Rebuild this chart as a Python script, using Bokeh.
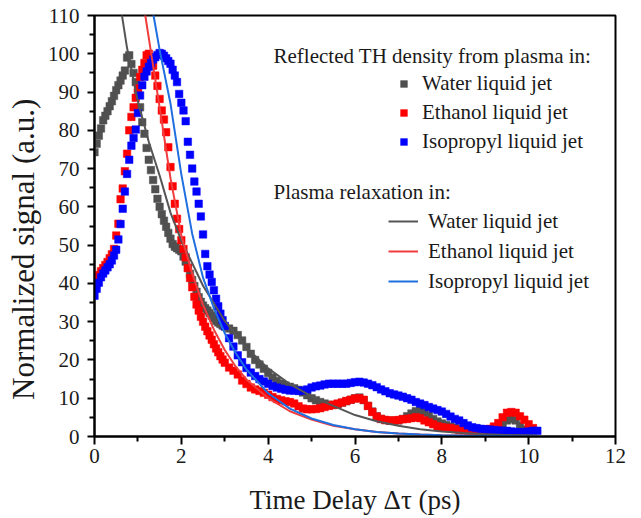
from bokeh.plotting import figure
from bokeh.models import FixedTicker, Legend, LegendItem, Label
from bokeh.embed import file_html
from bokeh.resources import INLINE

# ---------------- data ----------------
delay = [0.00, 0.05, 0.10, 0.15, 0.20, 0.25, 0.30, 0.35, 0.40, 0.45,
         0.50, 0.55, 0.60, 0.65, 0.70, 0.75, 0.80, 0.85, 0.90, 0.95,
         1.00, 1.05, 1.10, 1.15, 1.20, 1.25, 1.30, 1.35, 1.40, 1.45,
         1.50, 1.55, 1.60, 1.65, 1.70, 1.75, 1.80, 1.85, 1.90, 1.95,
         2.00, 2.05, 2.10, 2.15, 2.20, 2.25, 2.30, 2.35, 2.40, 2.45,
         2.50, 2.55, 2.60, 2.65, 2.70, 2.75, 2.80, 2.85, 2.90, 2.95,
         3.00,
         3.1, 3.2, 3.3, 3.4, 3.5, 3.6, 3.7, 3.8, 3.9,
         4.0, 4.1, 4.2, 4.3, 4.4, 4.5, 4.6, 4.7, 4.8, 4.9,
         5.0, 5.1, 5.2, 5.3, 5.4, 5.5, 5.6, 5.7, 5.8, 5.9,
         6.0, 6.1, 6.2, 6.3, 6.4, 6.5, 6.6, 6.7, 6.8, 6.9,
         7.0, 7.1, 7.2, 7.3, 7.4, 7.5, 7.6, 7.7, 7.8, 7.9,
         8.0, 8.1, 8.2, 8.3, 8.4, 8.5, 8.6, 8.7, 8.8, 8.9,
         9.0, 9.1, 9.2, 9.3, 9.4, 9.5, 9.6, 9.7, 9.8, 9.9,
         10.0, 10.1, 10.2]

water = [74.3, 76.5, 78.6, 80.5, 82.6, 83.8, 85.0, 86.3, 87.6, 89.0,
         90.5, 91.8, 93.0, 94.3, 95.6, 99.0, 99.6, 97.3, 95.0, 92.6,
         89.8, 86.0, 82.1, 79.1, 75.4, 72.3, 69.6, 67.0, 64.6, 62.1,
         60.0, 58.1, 56.4, 54.8, 53.2, 51.7, 50.3, 49.6, 49.2, 48.8,
         48.4, 47.0, 45.7, 44.1, 42.5, 40.9, 39.3, 37.8, 36.4, 35.2,
         34.2, 33.5, 32.9, 32.3, 31.6, 30.9, 30.2, 29.8, 29.4, 29.0,
         28.7,
         28.2, 27.6, 26.5, 25.1, 23.4, 21.6, 20.0, 18.8, 17.7,
         16.6, 15.4, 14.5, 13.8, 13.3, 13.0, 12.6, 12.2, 11.5, 10.8,
         10.0, 9.5, 9.0, 8.6, 8.3, 8.2, 8.4, 8.8, 9.2, 9.6,
         10.0, 10.2, 9.5, 8.0, 6.5, 5.3, 4.6, 4.3, 4.1, 4.1,
         4.2, 4.6, 5.3, 6.0, 6.6, 6.8, 6.3, 5.5, 4.6, 3.9,
         3.4, 3.0, 2.6, 2.3, 2.0, 1.8, 1.6, 1.4, 1.2, 1.1,
         1.0, 1.1, 1.5, 2.3, 3.3, 4.2, 4.6, 4.2, 2.8, 1.8,
         1.4]

ethanol = [39.7, 41.0, 42.2, 43.2, 44.0, 44.8, 45.6, 46.6, 47.6, 49.0,
           52.5, 55.6, 62.0, 64.8, 69.3, 73.9, 80.0, 83.5, 86.0, 88.5,
           91.0, 93.9, 95.8, 97.6, 99.6, 100.0, 98.8, 96.9, 94.3, 91.6,
           88.2, 85.2, 82.8, 79.5, 75.6, 70.4, 65.4, 60.8, 56.9, 54.2,
           51.3, 49.0, 46.8, 44.0, 41.4, 39.0, 36.5, 34.5, 32.9, 31.3,
           30.0, 28.7, 27.5, 26.4, 25.3, 24.1, 23.0, 22.0, 21.0, 20.1,
           19.3,
           18.0, 17.2, 16.2, 14.6, 13.7, 12.8, 12.3, 11.9, 11.4,
           10.9, 10.3, 9.8, 9.5, 9.2, 9.0, 8.6, 7.9, 7.3, 7.1,
           7.1, 7.2, 7.4, 7.7, 8.0, 8.3, 8.6, 8.9, 9.3, 9.6,
           9.9, 10.0, 9.6, 8.0, 6.4, 5.2, 4.6, 4.3, 4.2, 4.2,
           4.3, 4.5, 4.6, 4.8, 5.0, 4.8, 4.2, 3.7, 3.2, 2.7,
           2.4, 2.3, 2.2, 1.9, 1.7, 1.6, 1.6, 1.6, 1.6, 1.7,
           1.8, 2.0, 2.6, 3.5, 5.0, 6.2, 6.4, 6.2, 5.3, 4.4,
           3.2, 2.2]

isopropyl = [36.8, 38.6, 40.2, 41.6, 42.6, 43.4, 44.2, 45.0, 46.0, 47.3,
             48.8, 51.5, 55.5, 59.5, 64.0, 68.6, 72.3, 76.0, 78.0, 80.2,
             84.5, 89.1, 91.8, 94.0, 95.4, 96.6, 97.6, 98.5, 99.1, 99.7,
             100.2, 100.0, 99.5, 98.8, 98.1, 97.4, 95.8, 94.3, 92.6, 89.5,
             87.2, 85.2, 82.4, 77.0, 73.6, 70.0, 66.6, 64.0, 60.8, 57.5,
             52.8, 47.7, 44.5, 42.3, 40.4, 38.2, 36.0, 34.0, 32.1, 30.4,
             28.9,
             25.7, 23.5, 21.2, 19.4, 17.9, 16.7, 15.8, 15.0, 14.4,
             13.8, 13.2, 12.8, 12.5, 12.2, 12.0, 12.0, 11.9, 12.0, 12.3,
             12.8, 13.1, 13.3, 13.6, 13.8, 13.8, 13.8, 13.8, 13.8, 14.0,
             14.2, 14.3, 14.1, 13.8, 13.4, 12.9, 12.3, 11.8, 11.3, 11.0,
             10.7, 10.4, 10.0, 9.6, 9.0, 8.6, 8.2, 7.7, 7.3, 6.9,
             6.5, 5.9, 5.2, 4.6, 4.2, 3.5, 2.9, 2.4, 2.2, 2.0,
             1.9, 1.8, 1.7, 1.6, 1.5, 1.5, 1.3, 1.2, 1.1, 1.2,
             1.3, 1.5, 1.5]

water_fit_t = [0.55, 0.75, 1.0, 1.25, 1.5, 1.75, 2.0, 2.5, 3.0, 3.5, 4.0, 4.5,
               5.0, 5.5, 6.0, 6.5, 7.0, 7.5, 8.0, 8.5, 9.0, 9.5, 10.0, 10.2]
water_fit = [116.0, 101.5, 87.5, 77.0, 68.2, 58.5, 51.2, 39.4, 30.2, 23.2, 17.8, 13.7,
             10.5, 8.0, 5.6, 4.0, 2.8, 1.9, 1.3, 0.9, 0.6, 0.4, 0.3, 0.25]

ethanol_fit_t = [1.0, 1.17, 1.3, 1.5, 1.75, 2.0, 2.25, 2.5, 2.75, 3.0, 3.25, 3.5,
                 4.0, 4.5, 5.0, 5.5, 6.0, 6.5, 7.0, 7.5, 8.0, 9.0, 10.0, 10.2]
ethanol_fit = [124.0, 110.0, 100.5, 86.0, 67.5, 52.5, 42.6, 34.4, 27.9, 22.6, 18.3, 14.9,
               10.0, 6.6, 4.4, 2.8, 1.9, 1.2, 0.8, 0.5, 0.35, 0.15, 0.06, 0.05]

isopropyl_fit_t = [1.2, 1.36, 1.5, 1.75, 2.0, 2.25, 2.5, 2.75, 3.0, 3.25, 3.5,
                   4.0, 4.5, 5.0, 5.5, 6.0, 6.5, 7.0, 7.5, 8.0, 9.0, 10.0, 10.2]
isopropyl_fit = [122.0, 110.0, 101.0, 87.0, 68.5, 53.0, 41.5, 33.5, 27.0, 21.8, 17.5,
                 11.3, 7.3, 4.7, 3.0, 1.9, 1.2, 0.8, 0.5, 0.35, 0.15, 0.06, 0.05]

x_ticks = [0, 2, 4, 6, 8, 10, 12]
x_minor = [1, 3, 5, 7, 9, 11]
y_ticks = [0, 10, 20, 30, 40, 50, 60, 70, 80, 90, 100, 110]
y_minor = [5, 15, 25, 35, 45, 55, 65, 75, 85, 95, 105]

labels = ["Water liquid jet", "Ethanol liquid jet", "Isopropyl liquid jet"]
marker_colors = ["#505050", "#ff0000", "#0000ff"]
line_colors = ["#555555", "#f03c3c", "#1f6fe0"]

FONT = "'Liberation Serif', 'DejaVu Serif', serif"
TXT = "#1a1a1a"

# ---------------- figure ----------------
p = figure(width=641, height=518, output_backend="svg", toolbar_location=None,
           x_range=(0, 12), y_range=(0, 110),
           min_border_left=94, min_border_right=26, min_border_top=15,
           min_border_bottom=82)
p.grid.visible = False
p.outline_line_color = "black"
p.outline_line_width = 2
p.background_fill_color = "white"

series = [water, ethanol, isopropyl]
scat = []
for ys, c in zip(series, marker_colors):
    r = p.scatter(delay[:len(ys)], ys, marker="square", size=7.5,
                  fill_color=c, line_color=c, line_width=0.5)
    scat.append(r)

fits = [(water_fit_t, water_fit), (ethanol_fit_t, ethanol_fit),
        (isopropyl_fit_t, isopropyl_fit)]
lines = []
for (ft, fy), c in zip(fits, line_colors):
    r = p.line(ft, fy, line_width=2, line_color=c)
    lines.append(r)

# axes
p.xaxis.ticker = FixedTicker(ticks=x_ticks, minor_ticks=x_minor)
p.yaxis.ticker = FixedTicker(ticks=y_ticks, minor_ticks=y_minor)
p.xaxis.axis_label = "Time Delay \u0394\u03c4 (ps)"
# trailing no-break spaces shift the centred title down, as in the reference
p.yaxis.axis_label = "Normalized signal (a.u.)" + "\u00a0" * 6
for ax in (p.xaxis[0], p.yaxis[0]):
    ax.axis_line_width = 2
    ax.axis_line_color = "black"
    ax.major_tick_line_width = 2
    ax.minor_tick_line_width = 2
    ax.major_tick_in = 0
    ax.minor_tick_in = 0
    ax.minor_tick_out = 5
    ax.major_label_text_font = FONT
    ax.major_label_text_font_size = "21px"
    ax.major_label_text_color = TXT
    ax.axis_label_text_font = FONT
    ax.axis_label_text_font_style = "normal"
    ax.axis_label_text_color = TXT
p.xaxis.major_tick_out = 8
p.yaxis.major_tick_out = 7
p.xaxis.major_label_standoff = 4
p.yaxis.major_label_standoff = 8
p.xaxis.axis_label_text_font_size = "27px"
p.yaxis.axis_label_text_font_size = "31px"
p.xaxis.axis_label_standoff = 19
p.yaxis.axis_label_standoff = 4

# legends
def style_legend(leg):
    leg.background_fill_alpha = 0
    leg.border_line_alpha = 0
    leg.padding = 0
    leg.margin = 0
    leg.label_text_font = FONT
    leg.label_text_font_size = "21px"
    leg.label_text_color = TXT

leg1 = Legend(items=[LegendItem(label=l, renderers=[r]) for l, r in zip(labels, scat)],
              location=(301, 280), glyph_width=17, glyph_height=17,
              label_height=29, spacing=0, label_standoff=10)
style_legend(leg1)
leg2 = Legend(items=[LegendItem(label=l, renderers=[r]) for l, r in zip(labels, lines)],
              location=(294, 140), glyph_width=30, glyph_height=20,
              label_height=30, spacing=0, label_standoff=10)
style_legend(leg2)
p.add_layout(leg1)
p.add_layout(leg2)

h1 = Label(x=179, y=381, x_units="screen", y_units="screen",
           text="Reflected TH density from plasma in:", text_font=FONT,
           text_font_size="21px", text_color=TXT, text_baseline="middle")
h2 = Label(x=179, y=245, x_units="screen", y_units="screen",
           text="Plasma relaxation in:", text_font=FONT,
           text_font_size="21px", text_color=TXT, text_baseline="middle")
p.add_layout(h1)
p.add_layout(h2)

open("out.html", "w").write(file_html(p, INLINE))
